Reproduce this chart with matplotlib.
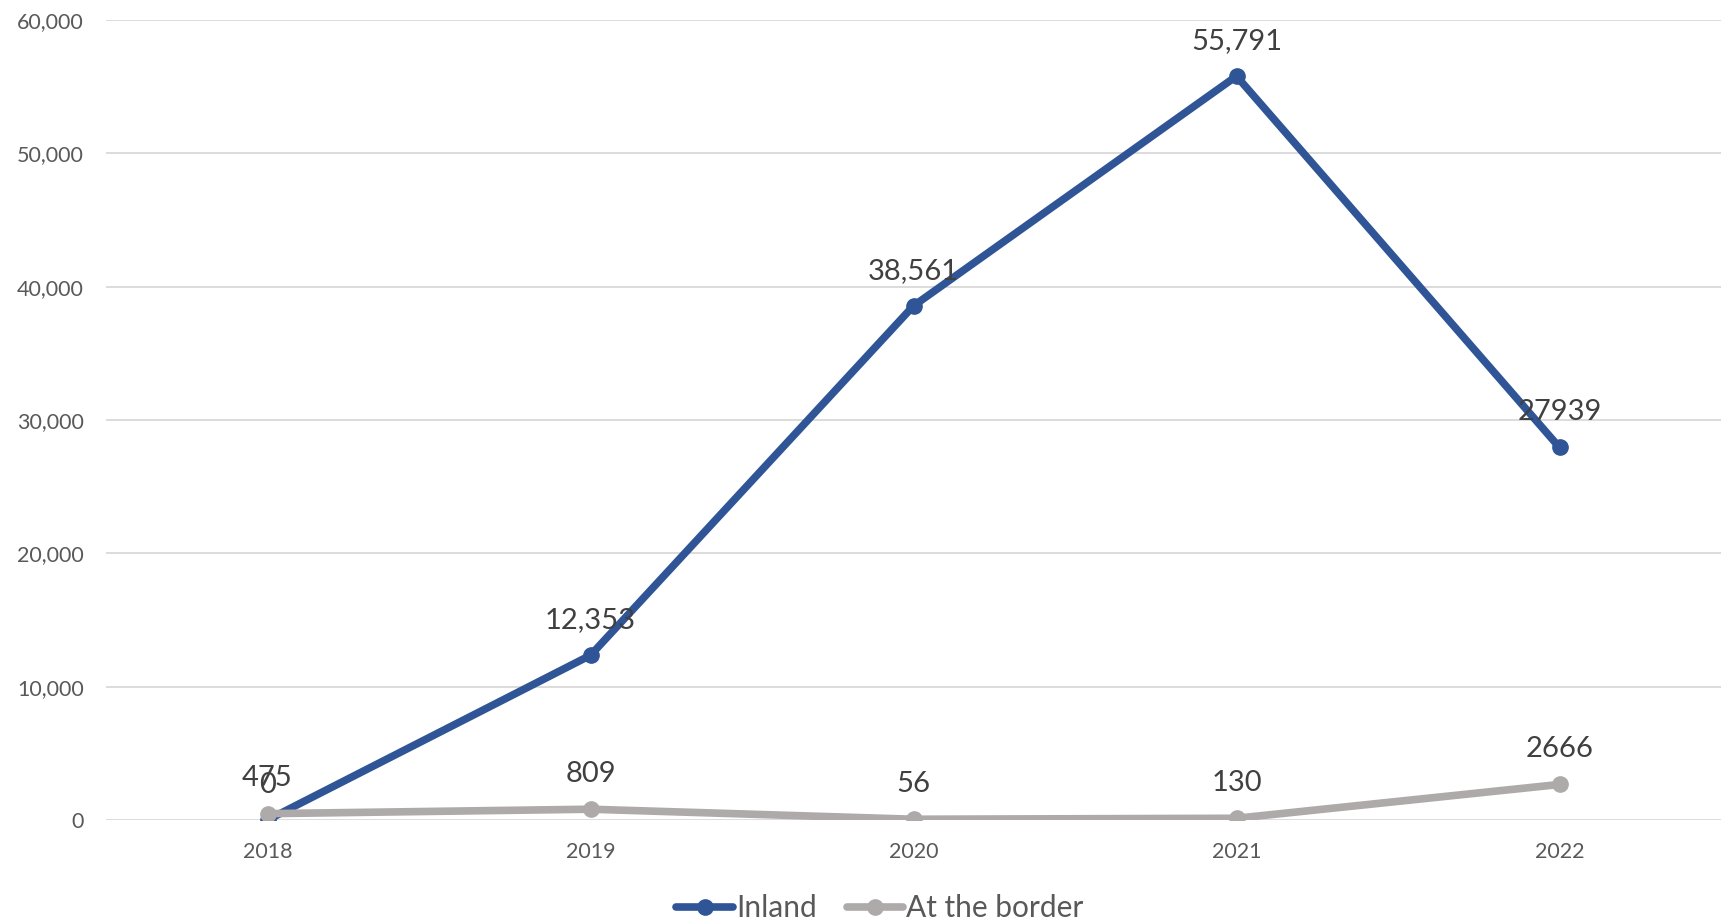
import matplotlib
matplotlib.use("Agg")
import matplotlib.pyplot as plt

plt.rcParams['font.family'] = ['Lato', 'DejaVu Sans']

years = ["2018", "2019", "2020", "2021", "2022"]
inland = [0, 12353, 38561, 55791, 27939]
border = [475, 809, 56, 130, 2666]
inland_labels = ["0", "12,353", "38,561", "55,791", "27939"]
border_labels = ["475", "809", "56", "130", "2666"]

BLUE = "#2F5597"
GREY = "#AEAAAA"

fig = plt.figure(figsize=(17.26, 9.24), dpi=100)
ax = fig.add_axes([106 / 1726, 104 / 924, 1615 / 1726, 800 / 924])

x = list(range(len(years)))
ax.plot(x, inland, color=BLUE, lw=5.5, marker='o', ms=11,
        solid_capstyle='round', label="Inland", zorder=3)
ax.plot(x, border, color=GREY, lw=5.5, marker='o', ms=11,
        solid_capstyle='round', label="At the border", zorder=4)

# data labels above each point
for xi, v, s in zip(x, inland, inland_labels):
    ax.annotate(s, (xi, v), xytext=(0, 16), textcoords='offset points',
                ha='center', va='bottom', fontsize=21, color='#404040', zorder=5)
for xi, v, s in zip(x, border, border_labels):
    ax.annotate(s, (xi, v), xytext=(0, 16), textcoords='offset points',
                ha='center', va='bottom', fontsize=21, color='#404040', zorder=5)

ax.set_xlim(-0.5, len(years) - 0.5)
ax.set_ylim(0, 60000)
ax.set_yticks(range(0, 60001, 10000))
ax.set_yticklabels([f"{t:,}" for t in range(0, 60001, 10000)])
ax.set_xticks(x)
ax.set_xticklabels(years)
ax.tick_params(axis='both', length=0, labelsize=15.5, colors='#595959')
ax.tick_params(axis='y', pad=16)
ax.tick_params(axis='x', pad=16)
ax.grid(axis='y', color='#D9D9D9', lw=1.3)
ax.set_axisbelow(True)
for sp in ax.spines.values():
    sp.set_visible(False)

fig.legend(loc='center', bbox_to_anchor=(880 / 1726, 16 / 924), ncol=2,
           frameon=False, fontsize=21.5, handlelength=1.9, handletextpad=0.1,
           columnspacing=1.0, labelcolor='#595959')

fig.savefig("out.png", dpi=100)
